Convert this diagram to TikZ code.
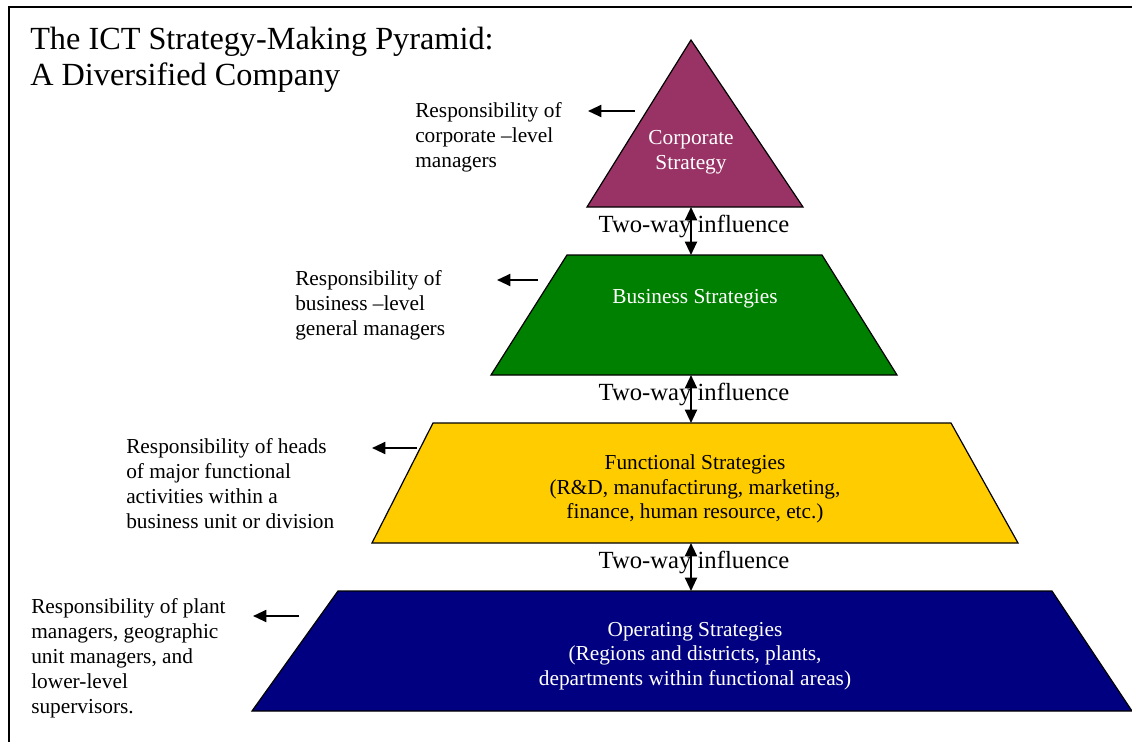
\documentclass[tikz,border=0pt]{standalone}
\usepackage{fontspec}
\setmainfont{Liberation Serif}
\usetikzlibrary{arrows.meta}

\definecolor{corpplum}{HTML}{993366}
\definecolor{busgreen}{HTML}{008000}
\definecolor{funcgold}{HTML}{FFCC00}
\definecolor{opnavy}{HTML}{000080}

\begin{document}
\begin{tikzpicture}[x=0.75pt,y=-0.75pt,
    level/.style = {draw=black,line width=0.9pt},
    note/.style = {anchor=north west,align=left,inner sep=0pt,font=\fontsize{16}{18.75}\selectfont},
    inside/.style = {align=center,inner sep=0pt,font=\fontsize{16}{18.4}\selectfont},
    twoway/.style = {inner sep=0pt,font=\fontsize{18.5}{22}\selectfont},
    pointer/.style = {-{Triangle[length=10pt,width=9pt]},line width=1.5pt},
    influence/.style = {{Triangle[length=10pt,width=9pt]}-{Triangle[length=10pt,width=9pt]},line width=1.5pt}]

        \useasboundingbox (0,0) rectangle (1132,742);

        % Frame
        \draw[line width=1.5pt] (1132,7) -- (9,7) -- (9,742);

        % Title
        \node[anchor=north west,align=left,inner sep=0pt,font=\fontsize{24.2}{27}\selectfont] (title) at (30,27)
            {The ICT Strategy-Making Pyramid:\\A Diversified Company};

        % Corporate level
        \draw[level,fill=corpplum] (691,40) -- (803,207) -- (587,207) -- cycle;
        \node[inside,text=white] (corp) at (691,152) {Corporate\\Strategy};
        \coordinate (corpTop) at (691,207);

        % Business level
        \draw[level,fill=busgreen] (567,255) -- (822,255) -- (897,375) -- (491,375) -- cycle;
        \node[inside,text=white] (bus) at (695,299) {Business Strategies};
        \coordinate (busTop) at (691,255);
        \coordinate (busBot) at (691,375);

        % Functional level
        \draw[level,fill=funcgold] (433,423) -- (951,423) -- (1018,543) -- (372,543) -- cycle;
        \node[inside] (func) at (695,489) {Functional Strategies\\(R\&D, manufactirung, marketing,\\finance, human resource, etc.)};
        \coordinate (funcTop) at (691,423);
        \coordinate (funcBot) at (691,543);

        % Operating level
        \draw[level,fill=opnavy] (338,591) -- (1052,591) -- (1132,711) -- (252,711) -- cycle;
        \node[inside,text=white] (oper) at (695,656) {Operating Strategies\\(Regions and districts, plants,\\departments within functional areas)};
        \coordinate (operTop) at (691,591);

        % Two-way influence
        \node[twoway] (inf1) at (694,226) {Two-way influence};
        \node[twoway] (inf2) at (694,394) {Two-way influence};
        \node[twoway] (inf3) at (694,562) {Two-way influence};
        \draw[influence] (corpTop) -- (busTop);
        \draw[influence] (busBot) -- (funcTop);
        \draw[influence] (funcBot) -- (operTop);

        % Responsibilities
        \node[note] (corpNote) at (415,102) {Responsibility of\\corporate --level\\managers};
        \node[note] (busNote) at (295,270) {Responsibility of\\business --level\\general managers};
        \node[note] (funcNote) at (126,438) {Responsibility of heads\\of major functional\\activities within a\\business unit or division};
        \node[note] (operNote) at (31,598) {Responsibility of plant\\managers, geographic\\unit managers, and\\lower-level\\supervisors.};

        % Pointers
        \coordinate (p1) at (635,111);
        \coordinate (q1) at (588,111);
        \coordinate (p2) at (538,280);
        \coordinate (q2) at (497,280);
        \coordinate (p3) at (417,448);
        \coordinate (q3) at (372,448);
        \coordinate (p4) at (299,616);
        \coordinate (q4) at (253,616);
        \draw[pointer] (p1) -- (q1);
        \draw[pointer] (p2) -- (q2);
        \draw[pointer] (p3) -- (q3);
        \draw[pointer] (p4) -- (q4);

    \end{tikzpicture}
\end{document}
